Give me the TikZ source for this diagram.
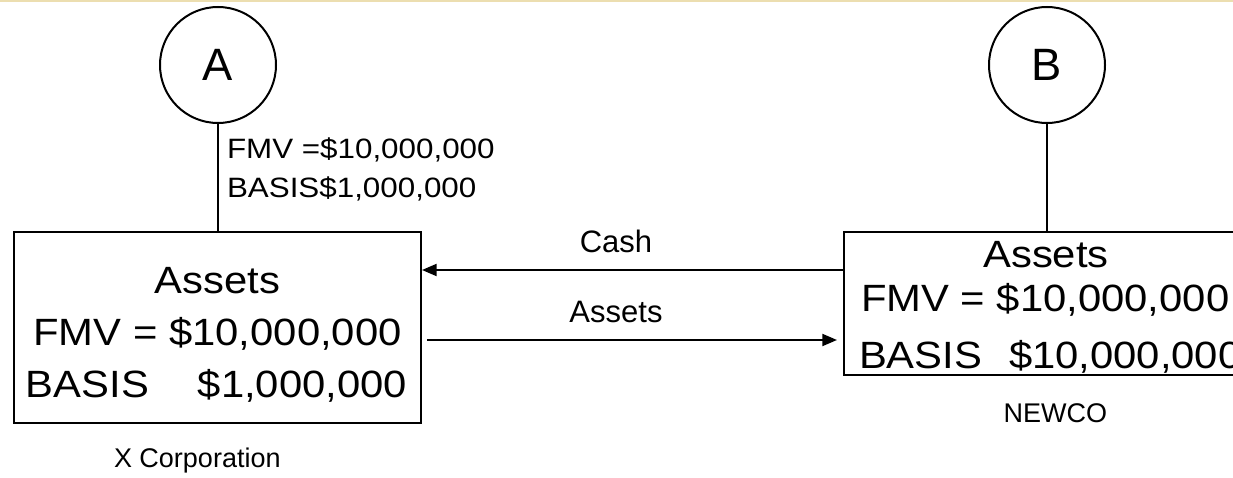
\documentclass[tikz,border=0pt]{standalone}
\usepackage{fontspec}
\setmainfont{Liberation Sans}
\newfontfamily\boxfont[FakeStretch=1.1]{Liberation Sans}
\newfontfamily\notefont[FakeStretch=1.12]{Liberation Sans}
\usetikzlibrary{arrows.meta}
\definecolor{rulebeige}{RGB}{236,222,176}

\begin{document}
\begin{tikzpicture}[x=0.75pt,y=-0.75pt,line width=1.5pt,
  party/.style={circle,draw,minimum size=87pt,inner sep=0pt,
    font=\fontsize{34pt}{36pt}\selectfont},
  entity/.style={draw,rectangle,inner sep=0pt},
  flow/.style={-{Triangle[length=11pt,width=9pt]}},
  bigtxt/.style={inner sep=0pt,font=\boxfont\fontsize{28.5pt}{39pt}\selectfont},
  flowlbl/.style={inner sep=0pt,font=\fontsize{23.25pt}{28pt}\selectfont},
  notetxt/.style={inner sep=0pt,font=\notefont\fontsize{21pt}{29pt}\selectfont},
  caption/.style={inner sep=0pt,font=\fontsize{20.25pt}{24pt}\selectfont}]

% canvas and top rule
\clip (0,0) rectangle (1233,478);
\fill[white] (0,0) rectangle (1233,478);
\fill[rulebeige] (0,0) rectangle (1233,2);

% shareholders
\node[party] (A) at (218,65) {A};
\node[party] (B) at (1047,65) {B};

% corporations
\node[entity,minimum width=305.25pt,minimum height=143.25pt] (L) at (217.5,327.5) {};
\node[entity,minimum width=304.5pt,minimum height=107.25pt] (R) at (1047,303.5) {};

% ownership lines
\draw (A.south) -- (A.south |- L.north);
\draw (B.south) -- (B.south |- R.north);

% X Corporation contents
\node[bigtxt,anchor=base] (l1) at (217.5,293) {Assets};
\node[bigtxt,anchor=base] (l2) at (217.5,345) {FMV = \$10,000,000};
\node[bigtxt,anchor=base west] (l3) at (25,397) {BASIS};
\node[bigtxt,anchor=base east] (l4) at (408,397) {\$1,000,000};

% NEWCO contents
\node[bigtxt,anchor=base] (r1) at (1046,267) {Assets};
\node[bigtxt,anchor=base west] (r2) at (860,311) {FMV = \$10,000,000};
\node[bigtxt,anchor=base west] (r3) at (858,368) {BASIS};
\node[bigtxt,anchor=base west] (r4) at (1008,368) {\$10,000,000};

% stock held by A
\node[notetxt,anchor=base west] (n1) at (226,158) {FMV =\$10,000,000};
\node[notetxt,anchor=base west] (n2) at (226,197) {BASIS\$1,000,000};

% transfers
\draw[flow] (R.west |- 0,270) -- (L.east |- 0,270);
\draw[flow,shorten <=3.75pt,shorten >=4.5pt] (L.east |- 0,340) -- (R.west |- 0,340);
\node[flowlbl,anchor=base] (c) at (616,252) {Cash};
\node[flowlbl,anchor=base] (s) at (616,322) {Assets};

% captions
\node[caption,anchor=base west] (xc) at (113,467) {X Corporation};
\node[caption,anchor=base east] (nc) at (1108,422) {NEWCO};
\end{tikzpicture}
\end{document}
